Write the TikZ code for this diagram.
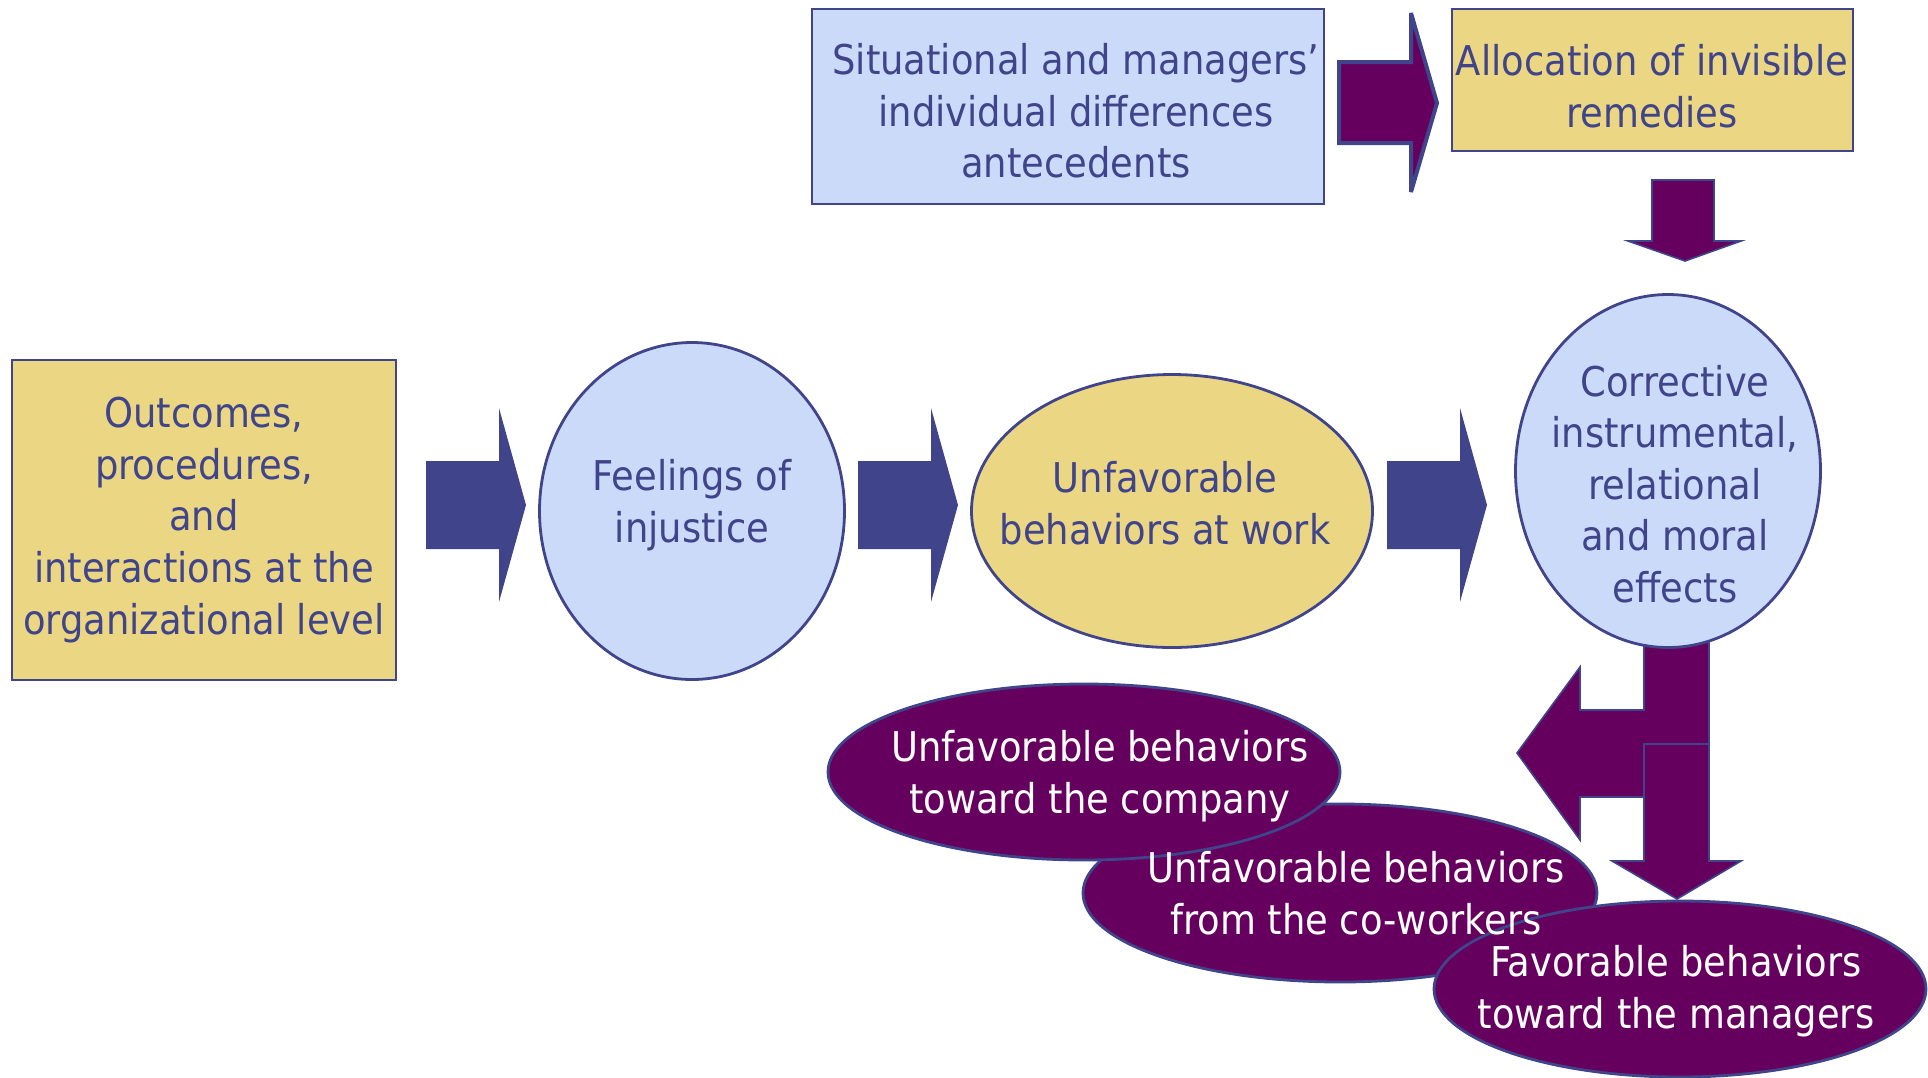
\documentclass[tikz,border=0pt]{standalone}
\usepackage{fontspec}
\setmainfont{DejaVu Sans Condensed}
\usetikzlibrary{shapes.geometric}

\definecolor{navy}{RGB}{64,68,138}
\definecolor{paleblue}{RGB}{204,218,250}
\definecolor{sand}{RGB}{235,215,131}
\definecolor{plum}{RGB}{102,0,94}

\begin{document}
\begin{tikzpicture}[x=0.5pt,y=-0.5pt,
	box/.style={draw=navy,line width=1pt,inner sep=1pt,align=center,text=navy,font=\fontsize{20.5}{25.8}\selectfont},
	oval/.style={ellipse,draw=navy,line width=1.4pt,inner sep=0pt},
	txt/.style={align=center,text=navy,inner sep=0pt,font=\fontsize{20.5}{25.8}\selectfont},
	wtxt/.style={txt,text=white}]
\useasboundingbox (0,0) rectangle (1928,1077);

% navy block arrows along the main row
\foreach \x in {426, 858, 1387}
	{
	\fill[navy] (\x,461) -- (\x+73,461) -- (\x+73,408) -- (\x+100,505)
		-- (\x+73,602) -- (\x+73,549) -- (\x,549) -- cycle;
	}

% purple arrows
\filldraw[fill=plum,draw=navy,line width=2pt,miter limit=2] (1339,62) -- (1411,62) -- (1411,13)
	-- (1437,103) -- (1411,192) -- (1411,143) -- (1339,143) -- cycle;
\filldraw[fill=plum,draw=navy,line width=0.8pt] (1652,180) -- (1714,180) -- (1714,241)
	-- (1741,241) -- (1685,261) -- (1628,241) -- (1652,241) -- cycle;
\filldraw[fill=plum,draw=navy,line width=0.8pt] (1644,620) -- (1644,710) -- (1580,710)
	-- (1580,667) -- (1517,753) -- (1580,840) -- (1580,797) -- (1709,797) -- (1709,620) -- cycle;
\filldraw[fill=plum,draw=navy,line width=0.8pt] (1644,744) -- (1709,744) -- (1709,861)
	-- (1741,861) -- (1677,899) -- (1612,861) -- (1644,861) -- cycle;

% boxes
\node[box,fill=sand,minimum width=192pt,minimum height=160pt] (outcomes) at (204,520)
	{Outcomes,\\ procedures,\\ and\\ interactions at the\\ organizational level};
\node[box,fill=paleblue,minimum width=256pt,minimum height=97.5pt] (situation) at (1068,106) {};
\node[txt] (situationtxt) at (1076,111) {Situational and managers’\\ individual differences\\ antecedents};
\node[box,fill=sand,minimum width=200.5pt,minimum height=71pt] (remedies) at (1652,80) {};
\node[txt] (remediestxt) at (1652,86) {Allocation of invisible\\ remedies};

% ellipses of the main row
\node[oval,fill=paleblue,minimum width=152.5pt,minimum height=168.5pt] (feelings) at (692,511) {};
\node[txt] (feelingstxt) at (692,505) {Feelings of\\ injustice};
\node[oval,fill=sand,minimum width=200.5pt,minimum height=136.5pt] (atwork) at (1172,511) {};
\node[txt] (atworktxt) at (1165,503) {Unfavorable\\ behaviors at work};
\node[oval,fill=paleblue,minimum width=152.5pt,minimum height=176.5pt] (effects) at (1668,471) {};
\node[txt] (effectstxt) at (1675,484) {Corrective\\ instrumental,\\ relational\\ and moral\\ effects};

% outcome ellipses
\node[oval,fill=plum,minimum width=257pt,minimum height=89pt] (coworkers) at (1340,893) {};
\node[oval,fill=plum,minimum width=256pt,minimum height=88pt] (company) at (1084,772) {};
\node[oval,fill=plum,minimum width=246pt,minimum height=88pt] (managers) at (1680,989) {};
\node[wtxt] (companytxt) at (1100,776) {Unfavorable behaviors\\ toward the company};
\node[wtxt] (coworkerstxt) at (1356,893) {Unfavorable behaviors\\ from the co-workers};
\node[wtxt] (managerstxt) at (1676,991) {Favorable behaviors\\ toward the managers};
\end{tikzpicture}
\end{document}
